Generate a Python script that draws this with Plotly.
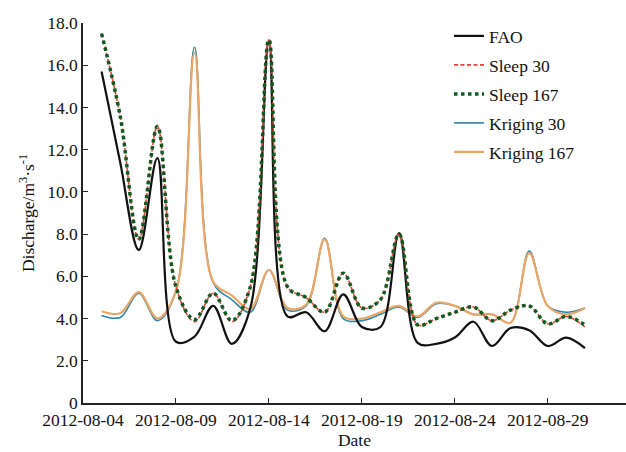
import plotly.graph_objects as go

dates = ["2012-08-%02d" % d for d in range(5, 32)]

fao = [15.7, 11.4, 7.25, 11.6, 2.9, 3.15, 4.6, 2.8, 4.5, 17.1, 4.1, 4.3, 3.4, 5.15,
       3.6, 3.6, 8.05, 2.85, 2.8, 3.1, 3.85, 2.7, 3.55, 3.45, 2.7, 3.1, 2.6]
sleep30 = [17.5, 13.6, 7.75, 13.1, 5.5, 3.85, 5.2, 3.85, 5.5, 17.2, 5.5, 5.0, 4.3, 6.15,
           4.5, 4.9, 8.0, 3.7, 4.0, 4.3, 4.55, 3.9, 4.4, 4.6, 3.75, 4.1, 3.6]
sleep167 = [17.5, 13.6, 7.75, 13.1, 5.5, 3.95, 5.2, 3.9, 5.5, 17.2, 5.5, 5.0, 4.3, 6.15,
            4.5, 4.9, 8.0, 3.7, 4.0, 4.3, 4.55, 3.9, 4.4, 4.6, 3.75, 4.1, 3.7]
kriging30 = [4.15, 4.05, 5.2, 3.9, 5.3, 16.85, 5.7, 4.9, 4.3, 6.3, 4.4, 4.6, 7.8, 4.0,
             3.9, 4.2, 4.55, 4.05, 4.7, 4.6, 4.2, 4.2, 3.8, 7.2, 4.6, 4.3, 4.5]
kriging167 = [4.35, 4.25, 5.25, 4.0, 5.3, 16.6, 5.75, 5.1, 4.45, 6.3, 4.5, 4.65, 7.75, 4.1,
              4.0, 4.3, 4.6, 4.1, 4.75, 4.6, 4.2, 4.2, 3.8, 7.1, 4.6, 4.2, 4.5]

y_ticks = [0, 2, 4, 6, 8, 10, 12, 14, 16, 18]
y_tick_labels = ["0", "2.0", "4.0", "6.0", "8.0", "10.0", "12.0", "14.0", "16.0", "18.0"]
x_ticks = ["2012-08-04", "2012-08-09", "2012-08-14", "2012-08-19", "2012-08-24", "2012-08-29"]

FONT = "Times New Roman, Liberation Serif, serif"
FS = 17.5

series = [
    # name, values, color, width, dash, legend id, legend y(px)
    ("Kriging 30", kriging30, "#2b86ad", 1.6, "solid", "legend4", 123),
    ("Kriging 167", kriging167, "#eba565", 2.2, "solid", "legend5", 152),
    ("FAO", fao, "#111111", 2.2, "solid", "legend", 36),
    ("Sleep 30", sleep30, "#e8413c", 1.6, "4px,2.5px", "legend2", 65),
    ("Sleep 167", sleep167, "#0d5a1f", 3.5, "dot", "legend3", 94),
]

fig = go.Figure()
for name, vals, color, w, dash, lg, _ in series:
    fig.add_trace(go.Scatter(
        x=dates, y=vals, name=name, mode="lines",
        line=dict(color=color, width=w, dash=dash, shape="spline", smoothing=1.0),
        legend=lg,
    ))

plot_left, plot_right = 83, 626
plot_top, plot_bottom = 23, 403
legend_left_px = 449
legends = {}
for name, vals, color, w, dash, lg, ypx in series:
    legends[lg] = dict(
        x=(legend_left_px - plot_left) / (plot_right - plot_left), xanchor="left",
        y=(plot_bottom - ypx) / (plot_bottom - plot_top), yanchor="middle",
        bgcolor="rgba(0,0,0,0)", borderwidth=0,
        font=dict(family=FONT, size=FS, color="#111"),
    )

fig.update_layout(
    width=626, height=452,
    margin=dict(l=plot_left, r=626 - plot_right, t=plot_top, b=452 - plot_bottom),
    paper_bgcolor="white", plot_bgcolor="white",
    font=dict(family=FONT, size=FS, color="#111"),
    showlegend=True,
    xaxis=dict(
        type="date", automargin=False,
        range=["2012-08-04", "2012-09-02 05:00"],
        tickvals=x_ticks, ticktext=x_ticks,
        ticks="inside", ticklen=5, tickwidth=1.2, tickcolor="#222",
        showline=True, linecolor="#222", linewidth=1.5,
        showgrid=False, zeroline=False,
        title=dict(text="Date", font=dict(family=FONT, size=FS), standoff=0),
        tickfont=dict(family=FONT, size=FS),
    ),
    yaxis=dict(
        range=[0, 18], automargin=False,
        tickvals=y_ticks, ticktext=y_tick_labels,
        ticks="inside", ticklen=5, tickwidth=1.2, tickcolor="#222",
        showline=True, linecolor="#222", linewidth=1.5,
        showgrid=False, zeroline=False,
        title=dict(text="Discharge/m<sup>3</sup>·s<sup>-1</sup>", font=dict(family=FONT, size=FS), standoff=8),
        tickfont=dict(family=FONT, size=FS),
    ),
    **legends,
)

fig.write_html("out.html", config={"displayModeBar": False},
               post_script="document.body.style.margin='0';document.body.style.overflow='hidden';")
